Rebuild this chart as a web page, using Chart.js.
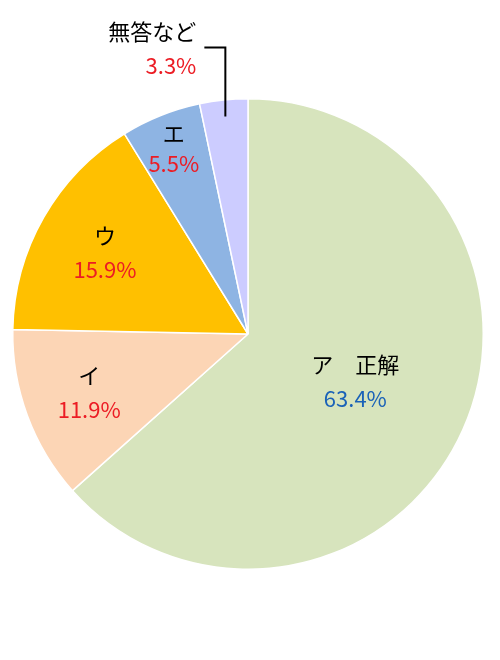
<!DOCTYPE html>
<html>
<head>
<meta charset="utf-8">
<script src="https://cdn.jsdelivr.net/npm/chart.js@4"></script>
<style>
  html, body { margin: 0; padding: 0; background: #fff; }
  #wrap { width: 500px; height: 660px; }
</style>
</head>
<body>
<div id="wrap"><canvas id="pie" width="500" height="660"></canvas></div>
<script>
// answer categories, clockwise from 12 o'clock
const categories = ['ア　正解', 'イ', 'ウ', 'エ', '無答など'];
const percents = [63.4, 11.9, 15.9, 5.5, 3.3];

const sliceColors = ['#d7e4bd', '#fcd5b5', '#ffc000', '#8eb4e3', '#ccccff'];
const valueColors = ['#1a62b8', '#ec1c24', '#ec1c24', '#ec1c24', '#ec1c24'];

// label placement: radial fraction of the slice, or a leader line
const labelRadius = [0.5, 0.72, 0.70, 0.85, null];
const labelGap = [17, 17, 17, 15, 17];
const FONT = '22px "Noto Sans CJK JP", "Noto Sans", sans-serif';

const sliceLabels = {
  id: 'sliceLabels',
  afterDatasetsDraw(chart) {
    const ctx = chart.ctx;
    const arcs = chart.getDatasetMeta(0).data;
    ctx.save();
    ctx.font = FONT;
    ctx.textBaseline = 'middle';
    arcs.forEach((arc, i) => {
      const p = arc.getProps(['x', 'y', 'startAngle', 'endAngle', 'outerRadius'], true);
      const mid = (p.startAngle + p.endAngle) / 2;
      const valueText = percents[i].toFixed(1) + '%';
      if (labelRadius[i] !== null) {
        const r = p.outerRadius * labelRadius[i];
        const cx = p.x + Math.cos(mid) * r;
        const cy = p.y + Math.sin(mid) * r;
        ctx.textAlign = 'center';
        ctx.fillStyle = '#000';
        ctx.fillText(categories[i], cx, cy - labelGap[i]);
        ctx.fillStyle = valueColors[i];
        ctx.fillText(valueText, cx, cy + labelGap[i]);
      } else {
        // small slice: leader line up and to the left
        const r = p.outerRadius * 0.93;
        const ax = p.x + Math.cos(mid) * r;
        const ay = p.y + Math.sin(mid) * r;
        const elbowY = ay - 69;
        const endX = ax - 21;
        ctx.strokeStyle = '#000';
        ctx.lineWidth = 2;
        ctx.beginPath();
        ctx.moveTo(ax, ay);
        ctx.lineTo(ax, elbowY);
        ctx.lineTo(endX, elbowY);
        ctx.stroke();
        ctx.textAlign = 'right';
        ctx.fillStyle = '#000';
        ctx.fillText(categories[i], endX - 8, elbowY - 16);
        ctx.fillStyle = valueColors[i];
        ctx.fillText(valueText, endX - 8, elbowY + 18);
      }
    });
    ctx.restore();
  }
};

new Chart(document.getElementById('pie'), {
  type: 'pie',
  data: {
    labels: categories,
    datasets: [{
      data: percents,
      backgroundColor: sliceColors,
      borderColor: '#ffffff',
      borderWidth: 1.5
    }]
  },
  options: {
    responsive: false,
    animation: false,
    layout: { padding: { left: 12, right: 16, top: 98, bottom: 90 } },
    plugins: { legend: { display: false }, tooltip: { enabled: false } }
  },
  plugins: [sliceLabels]
});
</script>
</body>
</html>
